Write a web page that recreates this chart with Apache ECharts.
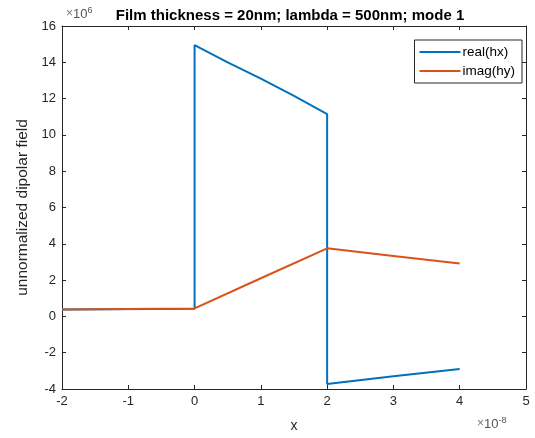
<!DOCTYPE html>
<html>
<head>
<meta charset="utf-8">
<script src="https://cdn.jsdelivr.net/npm/echarts@6/dist/echarts.min.js"></script>
<style>
  html, body { margin: 0; padding: 0; background: #fff; }
  #chart { width: 535px; height: 438px; }
</style>
</head>
<body>
<div id="chart"></div>
<script>
// x positions are in units of 1e-8, field values in units of 1e6
const realHxX = [-2, 0, 0, 0.5, 1, 1.5, 2, 2, 3, 4];
const realHxY = [0.38, 0.42, 14.95, 14.0, 13.1, 12.15, 11.15, -3.72, -3.3, -2.9];
const imagHyX = [-2, 0, 1, 2, 3, 4];
const imagHyY = [0.38, 0.44, 2.1, 3.75, 3.33, 2.92];
const xTicks = { min: -2, max: 5, step: 1 };
const yTicks = { min: -4, max: 16, step: 2 };
const seriesNames = ['real(hx)', 'imag(hy)'];
const titleText = 'Film thickness = 20nm; lambda = 500nm; mode 1';

const pairs = (xs, ys) => xs.map((x, i) => [x, ys[i]]);

const axisColor = '#262626';
const font = 'Liberation Sans, Arial, Helvetica, sans-serif';

const chart = echarts.init(document.getElementById('chart'), null, { renderer: 'canvas' });

const baseX = {
  type: 'value', min: xTicks.min, max: xTicks.max, interval: xTicks.step,
  splitLine: { show: false },
  axisLine: { show: true, onZero: false, lineStyle: { color: axisColor, width: 1 } },
  axisTick: { show: true, inside: true, length: 4, lineStyle: { color: axisColor } }
};
const baseY = {
  type: 'value', min: yTicks.min, max: yTicks.max, interval: yTicks.step,
  splitLine: { show: false },
  axisLine: { show: true, onZero: false, lineStyle: { color: axisColor, width: 1 } },
  axisTick: { show: true, inside: true, length: 4, lineStyle: { color: axisColor } }
};

const supText = (left, top, exp) => ({
  type: 'text', left, top,
  style: {
    text: '{x|×}10{sup|' + exp + '}',
    fontFamily: font, fontSize: 13, fill: '#555',
    rich: {
      x: { fontSize: 12, fill: '#777' },
      sup: { fontSize: 9, verticalAlign: 'top', padding: [0, 0, 7, 0], fill: '#555' }
    }
  }
});

chart.setOption({
  animation: false,
  backgroundColor: '#fff',
  title: {
    text: titleText,
    left: 285, top: 3, textAlign: 'center',
    textStyle: { fontFamily: font, fontSize: 15, fontWeight: 'bold', color: '#000' }
  },
  grid: { left: 62, right: 9, top: 26, bottom: 49 },
  legend: {
    data: seriesNames,
    orient: 'vertical',
    right: 13, top: 40,
    padding: [5, 7, 5, 5],
    itemGap: 5,
    itemWidth: 41, itemHeight: 14,
    icon: 'path://M0,6 L40,6 L40,8 L0,8 Z',
    borderColor: '#262626', borderWidth: 1, borderRadius: 0,
    backgroundColor: '#fff',
    textStyle: { fontFamily: font, fontSize: 13.5, color: '#000', padding: [0, 0, 0, -3] }
  },
  xAxis: [
    Object.assign({}, baseX, {
      position: 'bottom',
      name: 'x', nameLocation: 'middle', nameGap: 30,
      nameTextStyle: { fontFamily: font, fontSize: 14, color: axisColor },
      axisLabel: { fontFamily: font, fontSize: 13, color: axisColor, margin: 6 }
    }),
    Object.assign({}, baseX, { position: 'top', axisLabel: { show: false } })
  ],
  yAxis: [
    Object.assign({}, baseY, {
      position: 'left',
      name: 'unnormalized dipolar field', nameLocation: 'middle', nameGap: 26,
      nameTextStyle: { fontFamily: font, fontSize: 15.5, color: axisColor },
      axisLabel: { fontFamily: font, fontSize: 13, color: axisColor, margin: 6 }
    }),
    Object.assign({}, baseY, { position: 'right', axisLabel: { show: false } })
  ],
  graphic: [supText(66, 6, '6'), supText(477, 416, '-8')],
  series: [
    {
      name: seriesNames[0], type: 'line', symbol: 'none',
      data: pairs(realHxX, realHxY),
      lineStyle: { color: '#0072BD', width: 2 }, itemStyle: { color: '#0072BD' }
    },
    {
      name: seriesNames[1], type: 'line', symbol: 'none',
      data: pairs(imagHyX, imagHyY),
      lineStyle: { color: '#D95319', width: 2 }, itemStyle: { color: '#D95319' }
    }
  ]
});
</script>
</body>
</html>
